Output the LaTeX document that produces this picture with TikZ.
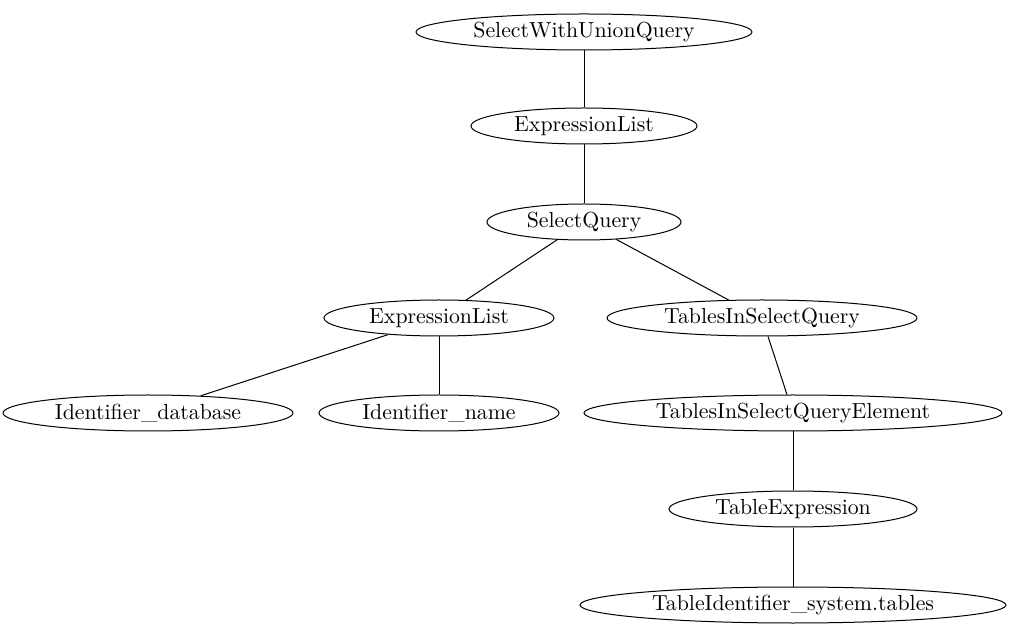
\documentclass[tikz,border=0pt]{standalone}
\usetikzlibrary{shapes.geometric}
\begin{document}
\begin{tikzpicture}[x=0.5pt,y=-0.5pt,
  tn/.style={draw, ellipse, line width=0.5pt, inner sep=0pt, minimum height=18pt, font=\fontsize{10.9}{13}\selectfont},
  edge/.style={line width=0.5pt}]
\useasboundingbox (0,0) rectangle (1011,635);
\node[tn, minimum width=168pt] (swu) at (584,32) {SelectWithUnionQuery};
\node[tn, minimum width=113pt] (el1) at (584,126) {ExpressionList};
\node[tn, minimum width=97pt] (sq) at (584,222) {SelectQuery};
\node[tn, minimum width=115pt] (el2) at (439,318) {ExpressionList};
\node[tn, minimum width=155pt] (tisq) at (762,318) {TablesInSelectQuery};
\node[tn, minimum width=145pt] (iddb) at (148,413) {Identifier\_database};
\node[tn, minimum width=120pt] (idn) at (439,413) {Identifier\_name};
\node[tn, minimum width=209pt] (tise) at (793,413) {TablesInSelectQueryElement};
\node[tn, minimum width=124pt] (te) at (793,509) {TableExpression};
\node[tn, minimum width=213pt] (tid) at (793,605) {TableIdentifier\_system.tables};
\draw[edge] (swu) -- (el1);
\draw[edge] (el1) -- (sq);
\draw[edge] (sq) -- (el2);
\draw[edge] (sq) -- (tisq);
\draw[edge] (el2) -- (iddb);
\draw[edge] (el2) -- (idn);
\draw[edge] (tisq) -- (tise);
\draw[edge] (tise) -- (te);
\draw[edge] (te) -- (tid);
\end{tikzpicture}
\end{document}
